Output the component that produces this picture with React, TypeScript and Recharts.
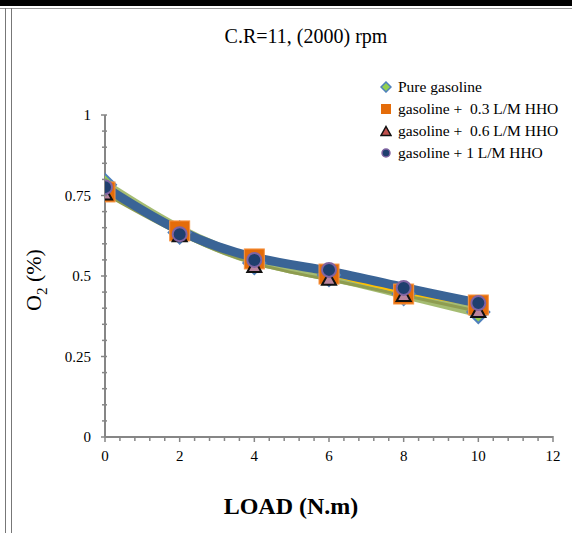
import { ComposedChart, Line, XAxis, YAxis } from 'recharts'

const loads = [0, 2, 4, 6, 8, 10]
const pureGasoline = [0.783, 0.635, 0.54, 0.503, 0.444, 0.388]
const hho03 = [0.761, 0.64, 0.553, 0.506, 0.444, 0.41]
const hho06 = [0.755, 0.625, 0.53, 0.49, 0.44, 0.39]
const hho1 = [0.776, 0.63, 0.55, 0.519, 0.463, 0.416]

// major ticks get a label, the rest are minor tick marks only
const xMajor = [0, 2, 4, 6, 8, 10, 12]
const xAllTicks = [0, 0.4, 0.8, 1.2, 1.6, 2, 2.4, 2.8, 3.2, 3.6, 4, 4.4, 4.8, 5.2, 5.6, 6, 6.4, 6.8, 7.2, 7.6, 8, 8.4, 8.8, 9.2, 9.6, 10, 10.4, 10.8, 11.2, 11.6, 12]
const yMajor = [0, 0.25, 0.5, 0.75, 1]
const yAllTicks = [0, 0.05, 0.1, 0.15, 0.2, 0.25, 0.3, 0.35, 0.4, 0.45, 0.5, 0.55, 0.6, 0.65, 0.7, 0.75, 0.8, 0.85, 0.9, 0.95, 1]

const FONT = '"Liberation Serif", "Times New Roman", serif'
const AXIS = '#868686'

const toRows = (vals: number[]) => loads.map((x, i) => ({ x, y: vals[i] }))
const isMajor = (list: number[], v: number) => list.some((m) => Math.abs(m - v) < 1e-6)

const XTick = (props: any) => {
    const { x, y, payload } = props
    const major = isMajor(xMajor, payload.value)
    return (
        <g>
            <line x1={x} x2={x} y1={y - 1} y2={y + (major ? 5 : 4)} stroke={AXIS} strokeWidth={1.5} />
            {major && (
                <text x={x} y={y + 24} textAnchor="middle" fontFamily={FONT} fontSize={15} fill="#000">
                    {payload.value}
                </text>
            )}
        </g>
    )
}

const YTick = (props: any) => {
    const { x, y, payload } = props
    const major = isMajor(yMajor, payload.value)
    return (
        <g>
            <line x1={x + 2} x2={x - (major ? 4 : 3)} y1={y} y2={y} stroke={AXIS} strokeWidth={1.5} />
            {major && (
                <text x={x - 14} y={y + 5} textAnchor="end" fontFamily={FONT} fontSize={15} fill="#000">
                    {payload.value}
                </text>
            )}
        </g>
    )
}

const Diamond = (props: any) => {
    const { cx, cy } = props
    if (cx == null || cy == null) return null
    const r = 11
    return (
        <path
            d={`M${cx},${cy - r}L${cx + r},${cy}L${cx},${cy + r}L${cx - r},${cy}Z`}
            fill="#92D050"
            stroke="#4F81BD"
            strokeWidth={2}
        />
    )
}

const Square = (props: any) => {
    const { cx, cy } = props
    if (cx == null || cy == null) return null
    const r = 10
    return <rect x={cx - r} y={cy - r} width={r * 2} height={r * 2} fill="#E46C0A" stroke="#F79646" strokeWidth={1} />
}

const Triangle = (props: any) => {
    const { cx, cy } = props
    if (cx == null || cy == null) return null
    const r = 7
    return (
        <path
            d={`M${cx},${cy - r}L${cx + r},${cy + r * 0.8}L${cx - r},${cy + r * 0.8}Z`}
            fill="#B9849E"
            stroke="#111"
            strokeWidth={2}
        />
    )
}

const Circle = (props: any) => {
    const { cx, cy } = props
    if (cx == null || cy == null) return null
    return <circle cx={cx} cy={cy} r={7} fill="#1F3F6E" stroke="#8064A2" strokeWidth={2} />
}

const legendItems = [
    { label: 'Pure gasoline', icon: 'diamond' },
    { label: 'gasoline +  0.3 L/M HHO', icon: 'square' },
    { label: 'gasoline +  0.6 L/M HHO', icon: 'triangle' },
    { label: 'gasoline + 1 L/M HHO', icon: 'circle' },
]

const LegendIcon = ({ icon }: { icon: string }) => {
    if (icon === 'diamond')
        return <path d="M6,1L11,6L6,11L1,6Z" fill="#92D050" stroke="#4F81BD" strokeWidth={1.5} />
    if (icon === 'square') return <rect x={1} y={1} width={10} height={10} fill="#E46C0A" />
    if (icon === 'triangle') return <path d="M6,1.5L11,10.5L1,10.5Z" fill="#C0504D" stroke="#111" strokeWidth={1.5} />
    return <circle cx={6} cy={6} r={4} fill="#1F3F6E" stroke="#8064A2" strokeWidth={1.5} />
}

const ChartLegend = () => (
    <div style={{ position: 'absolute', left: 380, top: 76, fontFamily: FONT, fontSize: 15.5, color: '#000' }}>
        {legendItems.map((it) => (
            <div key={it.label} style={{ display: 'flex', alignItems: 'center', height: 22 }}>
                <svg width={12} height={12} style={{ marginRight: 6 }}>
                    <LegendIcon icon={it.icon} />
                </svg>
                <span style={{ whiteSpace: 'pre' }}>{it.label}</span>
            </div>
        ))}
    </div>
)

function App() {
    return (
        <div style={{ position: 'absolute', left: 0, top: 0, width: 572, height: 533, background: '#fff', overflow: 'hidden' }}>
            <div style={{ position: 'absolute', left: 0, top: 0, width: 572, height: 6, background: '#000' }} />
            <div style={{ position: 'absolute', left: 0, top: 8, width: 572, height: 1, background: '#999' }} />
            <div style={{ position: 'absolute', left: 5, top: 8, width: 1, height: 525, background: '#777' }} />
            <div style={{ position: 'absolute', left: 11, top: 8, width: 1, height: 525, background: '#777' }} />
            <div
                style={{
                    position: 'absolute',
                    left: 0,
                    width: 612,
                    top: 25,
                    textAlign: 'center',
                    fontFamily: FONT,
                    fontSize: 20,
                }}
            >
                C.R=11, (2000) rpm
            </div>
            <div
                style={{
                    position: 'absolute',
                    left: 0,
                    width: 582,
                    top: 493,
                    textAlign: 'center',
                    fontFamily: FONT,
                    fontSize: 24,
                    fontWeight: 'bold',
                }}
            >
                LOAD (N.m)
            </div>
            <div
                style={{
                    position: 'absolute',
                    left: 36,
                    top: 280,
                    transform: 'translate(-50%, -50%) rotate(-90deg)',
                    fontFamily: FONT,
                    fontSize: 22,
                    whiteSpace: 'nowrap',
                }}
            >
                O<sub style={{ fontSize: 15 }}>2</sub> (%)
            </div>
            <ChartLegend />
            <ComposedChart
                width={572}
                height={533}
                margin={{ top: 115, right: 19, bottom: 66, left: 55 }}
                style={{ position: 'absolute', left: 0, top: 0 }}
            >
                <XAxis
                    type="number"
                    dataKey="x"
                    domain={[0, 12]}
                    ticks={xAllTicks}
                    interval={0}
                    tickLine={false}
                    tickSize={0}
                    tickMargin={0}
                    axisLine={{ stroke: AXIS, strokeWidth: 2 }}
                    tick={<XTick />}
                    height={30}
                    allowDataOverflow
                />
                <YAxis
                    type="number"
                    domain={[0, 1]}
                    ticks={yAllTicks}
                    interval={0}
                    tickLine={false}
                    tickSize={0}
                    tickMargin={0}
                    axisLine={{ stroke: AXIS, strokeWidth: 2 }}
                    tick={<YTick />}
                    width={50}
                />
                <Line data={toRows(pureGasoline)} dataKey="y" stroke="none" dot={<Diamond />} isAnimationActive={false} legendType="none" />
                <Line data={toRows(hho03)} dataKey="y" stroke="none" dot={<Square />} isAnimationActive={false} legendType="none" />
                <Line data={toRows(hho06)} dataKey="y" stroke="none" dot={<Triangle />} isAnimationActive={false} legendType="none" />
                <Line data={toRows(hho1)} dataKey="y" stroke="none" dot={<Circle />} isAnimationActive={false} legendType="none" />
                <Line data={toRows(pureGasoline)} dataKey="y" type="basis" stroke="#9BB563" strokeOpacity={0.9} strokeWidth={10} dot={false} isAnimationActive={false} legendType="none" />
                <Line data={toRows(hho06)} dataKey="y" type="basis" stroke="#8E9C50" strokeWidth={3} dot={false} isAnimationActive={false} legendType="none" />
                <Line data={toRows(hho03)} dataKey="y" type="basis" stroke="#FFC000" strokeWidth={2.5} dot={false} isAnimationActive={false} legendType="none" />
                <Line data={toRows(hho1)} dataKey="y" type="basis" stroke="#3A6496" strokeWidth={9} dot={false} isAnimationActive={false} legendType="none" />
            </ComposedChart>
        </div>
    )
}

export default App
